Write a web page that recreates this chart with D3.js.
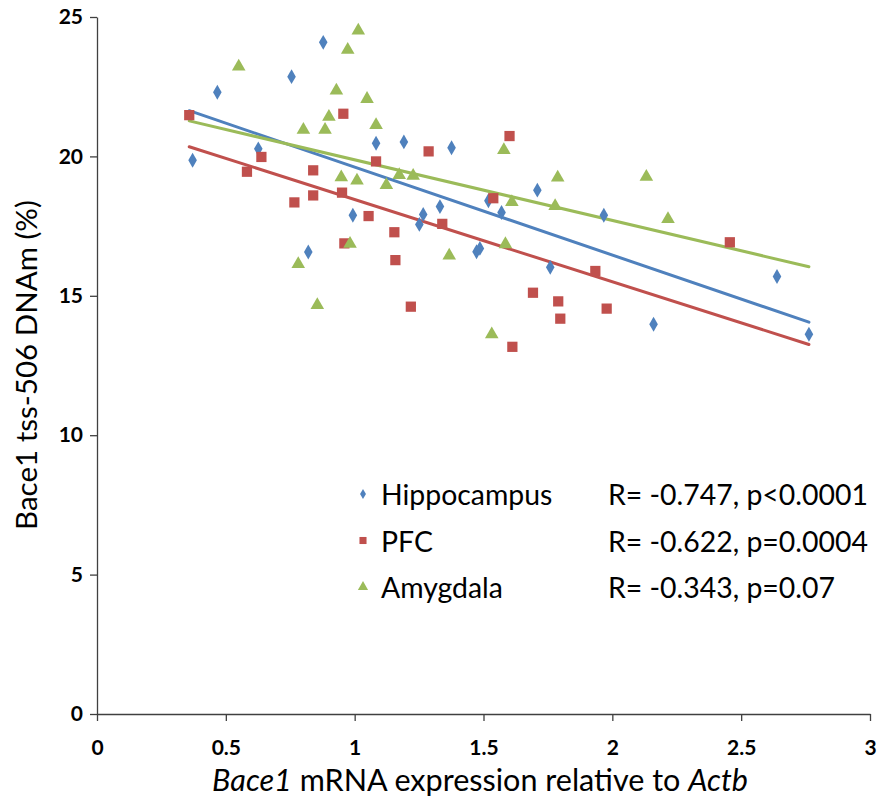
<!DOCTYPE html>
<html><head><meta charset="utf-8">
<script src="https://cdn.jsdelivr.net/npm/d3@7"></script>
<style>body{margin:0;background:#fff}</style>
</head><body>
<svg id="c" width="880" height="808"></svg>
<script>
const hippoX = [0.371,0.467,0.626,0.755,0.878,0.820,0.993,1.083,1.191,1.376,1.331,1.266,1.251,1.473,1.486,1.519,1.570,1.709,1.759,1.967,2.160,2.639,2.763];
const hippoY = [19.86,22.30,20.27,22.86,24.09,16.57,17.89,20.47,20.52,20.31,18.20,17.92,17.56,16.58,16.70,18.41,17.99,18.79,16.02,17.89,13.98,15.69,13.62];
const pfcX = [0.358,0.956,0.638,0.582,0.839,1.083,0.839,0.951,0.766,1.054,1.154,0.960,1.158,1.287,1.601,1.538,1.340,1.934,1.692,1.790,1.978,1.798,1.218,1.612,2.456];
const pfcY = [21.48,21.53,19.98,19.45,19.50,19.82,18.60,18.70,18.35,17.86,17.28,16.88,16.28,20.18,20.73,18.50,17.58,15.89,15.11,14.80,14.54,14.18,14.61,13.17,16.92];
const amyX = [1.014,0.973,0.550,0.929,1.048,0.900,0.801,0.885,1.083,0.948,1.009,1.123,0.982,0.781,0.855,1.579,1.173,1.227,1.788,1.610,1.778,1.367,1.585,1.532,2.132,2.216];
const amyY = [24.51,23.82,23.22,22.36,22.06,21.42,20.95,20.95,21.12,19.25,19.13,18.97,16.86,16.14,14.67,20.23,19.33,19.30,19.24,18.36,18.22,16.44,16.85,13.62,19.27,17.75];
const seriesNames = ["Hippocampus","PFC","Amygdala"];
const statLabels = ["R= -0.747, p<0.0001","R= -0.622, p=0.0004","R= -0.343, p=0.07"];
const xTicks = [0,0.5,1,1.5,2,2.5,3];
const yTicks = [0,5,10,15,20,25];

const colors = ["#4F81BD","#C0504D","#9BBB59"];
const symbols = [d3.symbolDiamond, d3.symbolSquare, d3.symbolTriangle];
const symSizes = [64, 105, 80];

const svg = d3.select("#c");
const x = d3.scaleLinear().domain([0,3]).range([97,870]);
const y = d3.scaleLinear().domain([0,25]).range([714,17]);

const series = [
  {name:seriesNames[0], xs:hippoX, ys:hippoY},
  {name:seriesNames[1], xs:pfcX, ys:pfcY},
  {name:seriesNames[2], xs:amyX, ys:amyY}
];

function fitWidth(sel, target){
  sel.attr("font-size",100);
  const w = sel.node().getComputedTextLength();
  const fs = 100*target/w;
  sel.attr("font-size", fs);
  return fs;
}

// axes
const fmt = d => String(d);
const ya = svg.append("g").attr("transform","translate(97,0)")
  .call(d3.axisLeft(y).tickValues(yTicks).tickSize(7).tickSizeOuter(0).tickFormat(fmt));
const xa = svg.append("g").attr("transform","translate(0,714)")
  .call(d3.axisBottom(x).tickValues(xTicks).tickSize(7).tickSizeOuter(0).tickFormat(fmt));
[ya,xa].forEach(a=>{
  a.select(".domain").attr("stroke","#404040").attr("stroke-width",1.3);
  a.selectAll(".tick line").attr("stroke","#404040").attr("stroke-width",1.3);
  a.selectAll("text").attr("font-family","Lato").attr("font-weight","bold")
    .attr("font-size",21).attr("fill","#000");
});
ya.selectAll("text").attr("x",-14);
xa.selectAll("text").attr("y",26);

// trend lines (least squares, spanning the full data x-range)
const allX = hippoX.concat(pfcX, amyX);
const [xmin,xmax] = d3.extent(allX);
function fit(xs,ys){
  const mx=d3.mean(xs), my=d3.mean(ys);
  let sxy=0,sxx=0;
  xs.forEach((v,i)=>{sxy+=(v-mx)*(ys[i]-my); sxx+=(v-mx)*(v-mx);});
  const b=sxy/sxx; return {b, a:my-b*mx};
}
const lines = svg.append("g");
series.forEach((s,i)=>{
  const f = fit(s.xs,s.ys);
  lines.append("line")
    .attr("x1",x(xmin)).attr("y1",y(f.a+f.b*xmin))
    .attr("x2",x(xmax)).attr("y2",y(f.a+f.b*xmax))
    .attr("stroke",colors[i]).attr("stroke-width",3).attr("stroke-linecap","round");
});

// points
series.forEach((s,i)=>{
  const sym = d3.symbol().type(symbols[i]).size(symSizes[i]);
  svg.append("g").selectAll("path").data(s.xs.map((v,j)=>[v,s.ys[j]])).join("path")
    .attr("d",sym)
    .attr("transform",d=>`translate(${x(d[0])},${y(d[1])})`)
    .attr("fill",colors[i]);
});

// legend
const leg = svg.append("g");
const legBase = [505, 551.5, 598];
const legSym = [30, 50, 45];
// size the legend font so the first statistic label spans its width in the reference
const probe = svg.append("text").attr("font-family","Lato").text(statLabels[0]);
const legFs = fitWidth(probe, 260);
probe.remove();
series.forEach((s,i)=>{
  const cy = legBase[i] - 11;
  leg.append("path").attr("d",d3.symbol().type(symbols[i]).size(legSym[i])())
    .attr("transform",`translate(363,${cy})`).attr("fill",colors[i]);
  leg.append("text").attr("x",381).attr("y",legBase[i]).text(s.name)
    .attr("font-family","Lato").attr("font-size",legFs).attr("fill","#000");
  leg.append("text").attr("x",608).attr("y",legBase[i]).text(statLabels[i])
    .attr("font-family","Lato").attr("font-size",legFs).attr("fill","#000");
});

// axis titles
const yt = svg.append("text").attr("transform","translate(37,365) rotate(-90)")
  .attr("text-anchor","middle").attr("font-family","Lato").attr("fill","#000")
  .text("Bace1 tss-506 DNAm (%)");
fitWidth(yt, 330);
const xt = svg.append("text").attr("x",480).attr("y",791).attr("text-anchor","middle")
  .attr("font-family","Lato").attr("fill","#000");
xt.append("tspan").attr("font-style","italic").text("Bace1");
xt.append("tspan").text(" mRNA expression relative to ");
xt.append("tspan").attr("font-style","italic").text("Actb");
fitWidth(xt, 536);
</script>
</body></html>
